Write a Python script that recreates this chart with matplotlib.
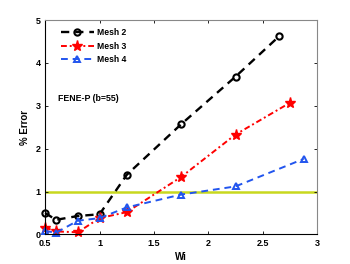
import matplotlib
matplotlib.use('Agg')
import matplotlib.pyplot as plt

plt.rcParams['font.family'] = ['Liberation Sans', 'DejaVu Sans']
plt.rcParams['font.weight'] = 'bold'

# data
wi_m2 = [0.5, 0.6, 0.8, 1.0, 1.25, 1.75, 2.25, 2.65]
err_m2 = [0.50, 0.34, 0.43, 0.47, 1.39, 2.57, 3.68, 4.62]
wi_m3 = [0.5, 0.6, 0.8, 1.0, 1.25, 1.75, 2.25, 2.75]
err_m3 = [0.16, 0.07, 0.05, 0.38, 0.52, 1.34, 2.33, 3.07]
wi_m4 = [0.5, 0.6, 0.8, 1.0, 1.25, 1.75, 2.25, 2.875]
err_m4 = [0.08, 0.04, 0.32, 0.38, 0.63, 0.93, 1.12, 1.76]
xticks = [0.5, 1, 1.5, 2, 2.5, 3]
yticks = [0, 1, 2, 3, 4, 5]

fig = plt.figure(figsize=(3.5, 2.64), dpi=100)
ax = fig.add_axes([0.129, 0.112, 0.777, 0.812])

ax.axhline(1, color='#c8d81e', lw=1.8, zorder=1)
ax.plot(wi_m2, err_m2, 'k--o', lw=1.7, ms=4.5, mfc='none', mew=1.5, dashes=(3.5, 2.5),
        label='Mesh 2', clip_on=False)
ax.plot(wi_m3, err_m3, color='red', ls='-.', marker='*', lw=1.4, ms=8, dashes=(3, 1.5, 1, 1.5),
        label='Mesh 3', clip_on=False)
ax.plot(wi_m4, err_m4, color='#2255ee', ls='--', marker='^', lw=1.4, ms=5, mfc='none', mew=1.4,
        dashes=(3.5, 2.5), label='Mesh 4', clip_on=False)

ax.set_xlim(0.5, 3)
ax.set_ylim(0, 5)
ax.set_xticks(xticks)
ax.set_xticklabels(['0.5', '1', '1.5', '2', '2.5', '3'])
ax.set_yticks(yticks)
ax.tick_params(direction='in', top=True, right=True, labelsize=6.5, length=2.5, width=0.6, pad=3)
ax.set_xlabel('Wi', fontsize=7, fontweight='bold', labelpad=3)
ax.set_ylabel('% Error', fontsize=7, fontweight='bold', labelpad=4)
ax.spines['left'].set_color('black')
ax.spines['bottom'].set_color('black')
ax.spines['top'].set_color('#888888')
ax.spines['right'].set_color('#888888')
for s in ax.spines.values():
    s.set_linewidth(0.8)

ax.text(0.62, 3.17, 'FENE-P (b=55)', fontsize=6.3, fontweight='bold', va='center')
ax.legend(loc='upper left', bbox_to_anchor=(0.03, 1.0), fontsize=6.2, frameon=False,
          handlelength=3.8, handletextpad=0.4, labelspacing=0.55)

fig.savefig('out.png', dpi=100)
